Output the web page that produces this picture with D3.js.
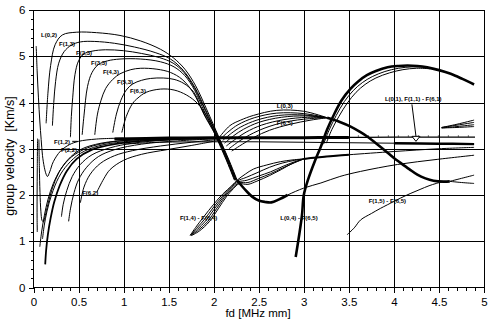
<!DOCTYPE html>
<html><head><meta charset="utf-8">
<script src="https://cdn.jsdelivr.net/npm/d3@7"></script>
<style>html,body{margin:0;padding:0;background:#fff;}svg{display:block;}</style>
</head><body>
<svg id="chart" width="493" height="326"></svg>
<script>
// ---- axis ticks ----
const fdTicks = [0, 0.5, 1, 1.5, 2, 2.5, 3, 3.5, 4, 4.5, 5];
const fdTickLabels = ["0", "0.5", "1", "1.5", "2", "2.5", "3", "3.5", "4", "4.5", "5"];
const velTicks = [0, 1, 2, 3, 4, 5, 6];
const velTickLabels = ["0", "1", "2", "3", "4", "5", "6"];

// ---- group velocity curves [fd (MHz mm), v (km/s)] ----
// L(0,2) / F(n,3) family
const L02 = [[0.14,3.55],[0.16,4.2],[0.19,4.8],[0.24,5.25],[0.32,5.46],[0.48,5.52],[0.7,5.51],[0.96,5.45],[1.19,5.33],[1.41,5.15],[1.55,4.97],[1.68,4.72],[1.8,4.36],[1.92,3.86],[2.06,3.24],[2.16,2.8],[2.26,2.32]];
const F13 = [[0.21,3.5],[0.225,4.0],[0.245,4.45],[0.28,4.85],[0.34,5.1],[0.42,5.24],[0.52,5.31],[0.68,5.32],[0.9,5.28],[1.12,5.2],[1.35,5.08],[1.52,4.94],[1.66,4.7],[1.79,4.33],[1.91,3.84],[2.055,3.24],[2.155,2.8],[2.255,2.32]];
const F23 = [[0.41,3.25],[0.42,3.7],[0.435,4.1],[0.46,4.6],[0.5,4.9],[0.56,5.05],[0.65,5.11],[0.8,5.14],[1.0,5.12],[1.2,5.06],[1.4,4.97],[1.55,4.85],[1.67,4.65],[1.79,4.3],[1.91,3.81],[2.05,3.24],[2.15,2.8],[2.25,2.32]];
const F33 = [[0.54,3.3],[0.56,3.71],[0.6,4.35],[0.65,4.65],[0.72,4.82],[0.82,4.9],[0.96,4.94],[1.19,4.94],[1.41,4.88],[1.56,4.77],[1.68,4.58],[1.79,4.26],[1.9,3.79],[2.045,3.24],[2.145,2.8],[2.245,2.32]];
const F43 = [[0.68,3.3],[0.71,3.75],[0.75,4.05],[0.8,4.3],[0.88,4.5],[0.96,4.62],[1.08,4.71],[1.19,4.74],[1.37,4.72],[1.52,4.65],[1.65,4.5],[1.77,4.22],[1.89,3.77],[2.04,3.24],[2.14,2.8],[2.24,2.32]];
const F53 = [[0.88,3.35],[0.92,3.75],[0.97,4.05],[1.03,4.27],[1.1,4.4],[1.2,4.48],[1.3,4.52],[1.44,4.53],[1.56,4.5],[1.67,4.41],[1.78,4.22],[1.89,3.75],[2.035,3.24],[2.135,2.8],[2.235,2.32]];
const F63 = [[0.98,3.35],[1.03,3.7],[1.1,3.98],[1.16,4.1],[1.25,4.22],[1.41,4.29],[1.56,4.27],[1.7,4.16],[1.82,3.98],[1.93,3.68],[2.03,3.24],[2.13,2.8],[2.23,2.32]];

// low-frequency family rising to the shear plateau
const V1 = [[0.03,5.22],[0.04,4.7],[0.055,4.1],[0.07,3.6],[0.085,3.2],[0.1,2.85],[0.12,2.6],[0.14,2.45],[0.155,2.4],[0.18,2.5],[0.22,2.72],[0.3,2.95],[0.4,3.09],[0.5,3.16],[0.7,3.21],[1.0,3.23]];
const V2 = [[0.045,3.22],[0.042,2.6],[0.04,2.0],[0.04,1.5],[0.042,1.2]];
const V3 = [[0.06,3.2],[0.065,2.6],[0.072,2.05],[0.082,1.65],[0.095,1.45],[0.11,1.42],[0.13,1.55],[0.16,1.8],[0.21,2.15],[0.28,2.48],[0.38,2.76],[0.52,2.98],[0.75,3.12],[1.1,3.19],[1.6,3.23],[2.0,3.24]];
const G1 = [[0.13,0.5],[0.14,0.8],[0.16,1.15],[0.19,1.5],[0.23,1.85],[0.29,2.2],[0.37,2.52],[0.48,2.78],[0.65,2.98],[0.9,3.1],[1.3,3.18],[2.0,3.23]];
const G2 = [[0.07,0.88],[0.09,1.2],[0.12,1.55],[0.16,1.9],[0.22,2.25],[0.3,2.55],[0.42,2.82],[0.6,3.02],[0.85,3.14],[1.2,3.2],[1.8,3.23],[2.0,3.24]];
const G3 = [[0.1,1.05],[0.12,1.35],[0.15,1.65],[0.2,2.0],[0.28,2.38],[0.38,2.66],[0.52,2.9],[0.72,3.06],[1.0,3.15],[1.5,3.21],[2.0,3.24]];
const G4 = [[0.31,1.53],[0.33,1.8],[0.37,2.1],[0.43,2.4],[0.52,2.66],[0.65,2.87],[0.85,3.02],[1.1,3.12],[1.5,3.19],[2.0,3.23]];
const G5 = [[0.39,1.43],[0.41,1.7],[0.45,2.05],[0.5,2.33],[0.59,2.6],[0.72,2.83],[0.9,2.98],[1.2,3.1],[1.6,3.17],[2.05,3.22]];
const G6 = [[0.52,1.83],[0.56,2.17],[0.63,2.45],[0.74,2.68],[0.9,2.85],[1.1,2.96],[1.41,3.06],[1.75,3.14],[2.05,3.2]];
const G7 = [[0.7,2.05],[0.78,2.35],[0.85,2.55],[1.0,2.75],[1.2,2.88],[1.48,2.98],[1.75,3.07],[2.05,3.18]];
const shear = [[0.9,3.21],[1.5,3.23],[2.0,3.24],[3.0,3.24],[3.5,3.245],[4.0,3.25],[4.9,3.25]];
const L01 = [[1.0,3.1],[1.4,3.14],[2.0,3.15],[2.5,3.15],[3.0,3.14],[3.5,3.13],[4.0,3.12],[4.5,3.11],[4.89,3.1]];

// L(0,3) / F(n,5) hump
const M0 = [[2.06,3.24],[2.18,3.5],[2.3,3.62],[2.44,3.72],[2.7,3.83],[3.0,3.81],[3.26,3.67]];
const M1 = [[2.08,3.22],[2.17,3.38],[2.27,3.52],[2.45,3.67],[2.7,3.77],[3.0,3.76],[3.26,3.67]];
const M2 = [[2.1,3.18],[2.2,3.34],[2.3,3.47],[2.48,3.62],[2.72,3.72],[3.0,3.73],[3.26,3.67]];
const M3 = [[2.12,3.12],[2.22,3.28],[2.33,3.42],[2.5,3.57],[2.75,3.68],[3.02,3.71],[3.26,3.67]];
const M4 = [[2.14,3.06],[2.25,3.22],[2.36,3.36],[2.53,3.51],[2.78,3.63],[3.04,3.68],[3.26,3.67]];
const M5 = [[2.17,3.0],[2.28,3.16],[2.4,3.3],[2.57,3.45],[2.8,3.58],[3.06,3.65],[3.26,3.67]];
const M6 = [[2.2,2.95],[2.32,3.1],[2.45,3.25],[2.62,3.4],[2.85,3.53],[3.08,3.62],[3.26,3.67]];
const L03tail = [[3.26,3.67],[3.4,3.58],[3.52,3.48],[3.62,3.37],[3.7,3.27],[3.8,3.12],[3.89,2.98],[4.0,2.8],[4.07,2.7],[4.17,2.56],[4.26,2.44],[4.35,2.36],[4.44,2.31],[4.55,2.29],[4.62,2.295]];
const tailUp = [[4.62,2.295],[4.75,2.36],[4.89,2.43]];
const tailDown = [[4.62,2.295],[4.75,2.27],[4.89,2.25]];

// F(n,4) band
const B1 = [[1.74,1.13],[1.8,1.3],[1.89,1.53],[2.0,1.8],[2.1,2.02],[2.2,2.2],[2.26,2.32],[2.35,2.45],[2.44,2.56],[2.59,2.65],[2.74,2.72],[2.88,2.76],[3.0,2.78]];
const B2 = [[1.74,1.13],[1.81,1.28],[1.9,1.48],[2.0,1.74],[2.1,1.98],[2.2,2.18],[2.26,2.3],[2.36,2.38],[2.48,2.48],[2.62,2.6],[2.76,2.69],[2.9,2.75],[3.0,2.78]];
const B3 = [[1.74,1.13],[1.82,1.26],[1.91,1.44],[2.0,1.68],[2.1,1.94],[2.2,2.16],[2.27,2.28],[2.37,2.32],[2.5,2.41],[2.63,2.5],[2.77,2.62],[2.9,2.72],[3.0,2.78]];
const B4 = [[1.75,1.13],[1.83,1.24],[1.93,1.42],[2.03,1.7],[2.12,1.95],[2.2,2.13],[2.28,2.26],[2.38,2.27],[2.5,2.36],[2.63,2.46],[2.76,2.58],[2.9,2.7],[3.0,2.78]];
const B5 = [[1.75,1.12],[1.84,1.22],[1.95,1.42],[2.05,1.7],[2.14,1.96],[2.22,2.14],[2.28,2.24],[2.38,2.23],[2.48,2.3],[2.62,2.42],[2.75,2.55],[2.88,2.69],[3.0,2.78]];
const F4tail = [[3.0,2.78],[3.25,2.83],[3.5,2.87],[4.0,2.94],[4.5,3.0],[4.89,3.03]];

// branch through the velocity minimum
const minBranch = [[2.26,2.32],[2.31,2.2],[2.37,2.07],[2.43,1.96],[2.5,1.88],[2.57,1.85],[2.64,1.84],[2.72,1.9],[2.82,2.0],[3.0,2.15],[3.19,2.26],[3.4,2.4],[3.63,2.51],[4.04,2.66],[4.48,2.77],[4.89,2.86]];

// L(0,4) hump
const H0 = [[2.91,0.66],[2.95,1.15],[2.98,1.57],[3.0,2.0],[3.05,2.35],[3.12,2.72],[3.19,3.05],[3.26,3.42],[3.33,3.72],[3.42,4.05],[3.52,4.3],[3.6,4.45],[3.7,4.59],[3.8,4.68],[3.93,4.76],[4.05,4.79],[4.15,4.8],[4.26,4.79],[4.37,4.76],[4.5,4.7],[4.63,4.62],[4.76,4.51],[4.89,4.39]];
const H1 = [[3.22,3.1],[3.28,3.4],[3.36,3.72],[3.45,4.02],[3.55,4.26],[3.65,4.43],[3.76,4.56],[3.9,4.67],[4.05,4.74],[4.2,4.77],[4.35,4.76]];
const H2 = [[3.25,3.12],[3.31,3.41],[3.39,3.7],[3.48,3.98],[3.58,4.22],[3.68,4.39],[3.8,4.53],[3.95,4.64],[4.1,4.71],[4.25,4.74],[4.4,4.73]];
const F15 = [[3.48,1.14],[3.56,1.29],[3.63,1.46],[3.75,1.6],[3.85,1.71],[4.0,1.86],[4.07,1.93],[4.18,2.03],[4.29,2.12],[4.39,2.2],[4.47,2.25],[4.55,2.29]];
const R1 = [[4.53,3.46],[4.7,3.53],[4.89,3.62]];
const R2 = [[4.53,3.46],[4.7,3.51],[4.89,3.57]];
const R3 = [[4.53,3.45],[4.7,3.48],[4.89,3.52]];
const R4 = [[4.53,3.45],[4.7,3.46],[4.89,3.48]];

const thinCurves = [L02,F13,F23,F33,F43,F53,F63,V1,V2,V3,G2,G3,G4,G5,G6,G7,M0,M1,M2,M3,M4,M5,M6,B1,B2,B3,B4,B5,F4tail,F15,H1,H2,R1,R2,R3,R4,tailUp,tailDown,minBranch,L01];
const thickCurves = [G1, L03tail, H0];

// mode labels
const modeLabels = [
  {t:"L(0,2)", fd:0.083, v:5.42}, {t:"F(1,3)", fd:0.283, v:5.22}, {t:"F(2,3)", fd:0.472, v:5.03},
  {t:"F(3,3)", fd:0.638, v:4.81}, {t:"F(4,3)", fd:0.771, v:4.62}, {t:"F(5,3)", fd:0.927, v:4.40},
  {t:"F(6,3)", fd:1.07, v:4.20}, {t:"F(1,2)", fd:0.228, v:3.10}, {t:"F(2,2)", fd:0.305, v:2.93},
  {t:"F(6,2)", fd:0.54, v:2.0}, {t:"L(0,3)", fd:2.70, v:3.88}, {t:"F(6,5)", fd:2.70, v:3.51},
  {t:"F(1,4) - F(6,4)", fd:1.625, v:1.46}, {t:"L(0,4) - F(6,5)", fd:2.74, v:1.46},
  {t:"F(1,5) - F(6,5)", fd:3.72, v:1.82}, {t:"L(0,1), F(1,1) - F(6,1)", fd:3.90, v:4.03}
];

const W = 493, H = 326;
const m = {left: 33.5, right: 484, top: 10, bottom: 287.5};
const x = d3.scaleLinear().domain([0, 5]).range([m.left, m.right]);
const y = d3.scaleLinear().domain([0, 6]).range([m.bottom, m.top]);

const svg = d3.select("#chart");
svg.append("rect").attr("width", W).attr("height", H).attr("fill", "#fff");
const font = "'Liberation Sans', Arial, sans-serif";

svg.append("clipPath").attr("id", "plot").append("rect")
  .attr("x", m.left).attr("y", m.top).attr("width", m.right - m.left).attr("height", m.bottom - m.top);

// grid
const grid = svg.append("g").attr("stroke", "#000").attr("stroke-width", 1).attr("shape-rendering", "crispEdges");
grid.selectAll(".gx").data(fdTicks.slice(1, -1)).join("line")
  .attr("x1", d => Math.round(x(d)) + 0.5).attr("x2", d => Math.round(x(d)) + 0.5)
  .attr("y1", m.top).attr("y2", m.bottom);
grid.selectAll(".gy").data(velTicks.slice(1, -1)).join("line")
  .attr("y1", d => Math.round(y(d)) + 0.5).attr("y2", d => Math.round(y(d)) + 0.5)
  .attr("x1", m.left).attr("x2", m.right);
svg.append("rect").attr("x", m.left).attr("y", m.top).attr("width", m.right - m.left).attr("height", m.bottom - m.top)
  .attr("fill", "none").attr("stroke", "#000").attr("shape-rendering", "crispEdges");

// axes
const xMajor = d3.axisBottom(x).tickValues(fdTicks).tickSize(5).tickFormat((d, i) => fdTickLabels[i]);
const xMinor = d3.axisBottom(x).tickValues(d3.range(0, 5.001, 0.1)).tickSize(3).tickFormat("");
const yMajor = d3.axisLeft(y).tickValues(velTicks).tickSize(5).tickFormat((d, i) => velTickLabels[i]);
const yMinor = d3.axisLeft(y).tickValues(d3.range(0, 6.001, 0.2)).tickSize(3).tickFormat("");
function styleAxis(g) {
  g.select(".domain").remove();
  g.selectAll("line").attr("stroke", "#000").attr("shape-rendering", "crispEdges");
  g.selectAll("text").attr("fill", "#000").style("font-family", font).style("font-size", "11.5px");
}
svg.append("g").attr("transform", `translate(0,${m.bottom})`).call(xMinor).call(styleAxis);
svg.append("g").attr("transform", `translate(0,${m.bottom})`).call(xMajor).call(styleAxis)
  .selectAll("text").attr("dy", "0.9em");
svg.append("g").attr("transform", `translate(${m.left},0)`).call(yMinor).call(styleAxis);
svg.append("g").attr("transform", `translate(${m.left},0)`).call(yMajor).call(styleAxis)
  .selectAll("text").attr("x", -8);

svg.append("text").attr("x", 258).attr("y", 317).attr("text-anchor", "middle")
  .style("font-family", font).style("font-size", "11.5px").text("fd [MHz mm]");
svg.append("text").attr("transform", "translate(14,156) rotate(-90)").attr("text-anchor", "middle")
  .style("font-family", font).style("font-size", "12.5px").style("white-space", "pre")
  .text("group velocity  [Km/s]");

// curves
const line = d3.line().x(d => x(d[0])).y(d => y(d[1])).curve(d3.curveCatmullRom.alpha(0.5));
const plot = svg.append("g").attr("clip-path", "url(#plot)").attr("fill", "none").attr("stroke", "#000");
plot.selectAll(".thin").data(thinCurves).join("path").attr("d", line).attr("stroke-width", 1);
plot.selectAll(".thick").data(thickCurves).join("path").attr("d", line).attr("stroke-width", (d, i) => i === 0 ? 1.8 : 2.6);
plot.append("path").attr("d", line(shear.filter(d => d[0] <= 3.6))).attr("stroke-width", 3);
plot.append("path").attr("d", line(shear)).attr("stroke-width", 1.2);
plot.append("path").attr("d", line(L01.filter(d => d[0] >= 4.0))).attr("stroke-width", 2.5);
plot.append("path").attr("d", line(minBranch.filter(d => d[0] <= 2.82))).attr("stroke-width", 2.6);
plot.append("path").attr("d", line(F4tail.filter(d => d[0] <= 3.5))).attr("stroke-width", 2);
plot.append("path").attr("d", line([[3.6, 3.275], [4.9, 3.275]])).attr("stroke-width", 1).attr("stroke-dasharray", "1,9");

// labels
svg.append("g").selectAll("text").data(modeLabels).join("text")
  .attr("x", d => x(d.fd)).attr("y", d => y(d.v))
  .attr("fill", "#000")
  .style("font-family", font).style("font-size", "6px").style("font-weight", "bold").style("white-space", "pre")
  .text(d => d.t);

// arrow to the L(0,1) / F(n,1) branch
const ax0 = x(4.2), ay0 = y(3.96), ax1 = x(4.245), ay1 = y(3.16);
svg.append("line").attr("x1", ax0).attr("y1", ay0).attr("x2", ax1).attr("y2", ay1 - 5).attr("stroke", "#000");
svg.append("path").attr("d", `M${ax1 - 4},${ay1 - 5}L${ax1 + 4},${ay1 - 5}L${ax1},${ay1}Z`)
  .attr("fill", "#fff").attr("stroke", "#000");
svg.append("line").attr("x1", x(0.43)).attr("y1", y(3.16)).attr("x2", x(0.49)).attr("y2", y(3.16)).attr("stroke", "#000");
</script>
</body></html>
